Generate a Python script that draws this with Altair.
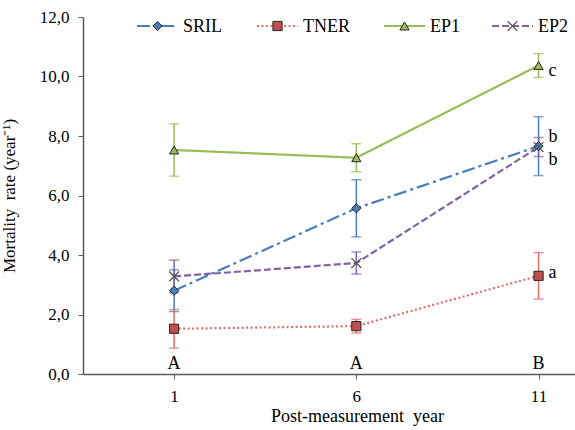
import altair as alt
import pandas as pd

# ---------------- data ----------------
years = [1, 6, 11]
series = ["SRIL", "TNER", "EP1", "EP2"]
sril = [2.80, 5.57, 7.66]
sril_err = [0.70, 0.96, 0.99]
tner = [1.52, 1.61, 3.30]
tner_err = [0.65, 0.23, 0.78]
ep1 = [7.53, 7.27, 10.37]
ep1_err = [0.88, 0.47, 0.40]
ep2 = [3.28, 3.73, 7.63]
ep2_err = [0.55, 0.37, 0.32]

group_letters = ["A", "A", "B"]          # year-group letters
sig_letters = ["c", "b", "b", "a"]       # series letters at year 11
sig_letter_y = [10.2, 7.95, 7.2, 3.4]    # annotation heights (y units)

y_ticks = [0, 2, 4, 6, 8, 10, 12]

# ---------------- styles ----------------
line_colors = ["#4a7ebb", "#e06c6c", "#9bbb59", "#8064a2"]
fill_colors = ["#4a7ebb", "#c0504d", "#9bbb59", "#8064a2"]
dashes = [[13, 4, 3, 4], [2, 2.5], [1, 0], [7, 3]]
shapes = ["diamond", "square", "triangle-up", "M-0.8,-0.8L0.8,0.8M-0.8,0.8L0.8,-0.8"]
FONT = "Times New Roman, Liberation Serif, serif"

vals = {"SRIL": (sril, sril_err), "TNER": (tner, tner_err),
        "EP1": (ep1, ep1_err), "EP2": (ep2, ep2_err)}
rows = []
for s in series:
    v, e = vals[s]
    for yr, val, er in zip(years, v, e):
        rows.append({"series": s, "year": yr, "value": val,
                     "lo": val - er, "hi": val + er})
df = pd.DataFrame(rows)

W, H = 492, 357
xs = alt.Scale(domain=[-1.5, 12], nice=False, zero=False)
ys = alt.Scale(domain=[0, 12], nice=False, zero=True)
col_stroke = alt.Color("series:N", scale=alt.Scale(domain=series, range=line_colors), legend=None)
col_fill = alt.Fill("series:N", scale=alt.Scale(domain=series, range=fill_colors), legend=None)
dash_enc = alt.StrokeDash("series:N", scale=alt.Scale(domain=series, range=dashes), legend=None)
shape_enc = alt.Shape("series:N", scale=alt.Scale(domain=series, range=shapes), legend=None)

base = alt.Chart(df)

x_axis = alt.Axis(values=years, title="Post-measurement\u00a0\u00a0year", grid=False,
                  domainColor="#595959", domainWidth=1.5, tickColor="#595959",
                  tickSize=5, labelFont=FONT, labelFontSize=17, labelColor="black",
                  labelPadding=9, titleFont=FONT, titleFontSize=18, titleFontWeight="normal",
                  titleColor="black", titlePadding=3, titleX=274)
y_axis = alt.Axis(values=y_ticks, title="Mortality\u00a0\u00a0rate (year⁻¹)", grid=False,
                  labelExpr="replace(format(datum.value, '.1f'), '.', ',')",
                  domainColor="#595959", domainWidth=1.5, tickColor="#595959",
                  tickSize=5, labelFont=FONT, labelFontSize=17, labelColor="black",
                  labelPadding=9, titleFont=FONT, titleFontSize=17, titleFontWeight="normal",
                  titleColor="black", titleX=-65, titleAlign="center")

lines = base.mark_line(strokeWidth=2.2).encode(
    x=alt.X("year:Q", scale=xs, axis=x_axis),
    y=alt.Y("value:Q", scale=ys, axis=y_axis),
    color=col_stroke, strokeDash=dash_enc, detail="series:N")

err_rule = base.mark_rule(strokeWidth=1.5).encode(
    x=alt.X("year:Q", scale=xs), y=alt.Y("lo:Q", scale=ys), y2="hi:Q", color=col_stroke)
err_top = base.mark_tick(thickness=1.5, size=10, orient="horizontal").encode(
    x=alt.X("year:Q", scale=xs), y=alt.Y("hi:Q", scale=ys), color=col_stroke)
err_bot = base.mark_tick(thickness=1.5, size=10, orient="horizontal").encode(
    x=alt.X("year:Q", scale=xs), y=alt.Y("lo:Q", scale=ys), color=col_stroke)

filled_pts = base.transform_filter(alt.datum.series != "EP2").mark_point(
    filled=True, size=85, stroke="#262626", strokeWidth=1, opacity=1).encode(
    x=alt.X("year:Q", scale=xs), y=alt.Y("value:Q", scale=ys),
    fill=col_fill, shape=shape_enc)
x_pts = base.transform_filter(alt.datum.series == "EP2").mark_point(
    filled=False, size=150, stroke="#555555", strokeWidth=1.3, opacity=1).encode(
    x=alt.X("year:Q", scale=xs), y=alt.Y("value:Q", scale=ys), shape=shape_enc)

grp_df = pd.DataFrame({"year": years, "letter": group_letters})
grp_text = alt.Chart(grp_df).mark_text(font=FONT, fontSize=18, color="black",
                                       baseline="bottom", dy=-1).encode(
    x=alt.X("year:Q", scale=xs), y=alt.Y(datum=0, scale=ys), text="letter:N")

sig_df = pd.DataFrame({"year": [11] * 4, "y": sig_letter_y, "letter": sig_letters})
sig_text = alt.Chart(sig_df).mark_text(font=FONT, fontSize=18, color="black",
                                       align="left", baseline="middle", dx=10).encode(
    x=alt.X("year:Q", scale=xs), y=alt.Y("y:Q", scale=ys), text="letter:N")

main = alt.layer(lines, err_rule, err_top, err_bot, filled_pts, x_pts, grp_text, sig_text)

# ---------------- legend (layout in plot pixels) ----------------
leg_x0 = [54, 174, 301, 409]
seg_len = 41
leg_y = 9
leg_df = pd.DataFrame({"series": series,
                       "x1": leg_x0,
                       "x2": [a + seg_len for a in leg_x0],
                       "xm": [a + seg_len / 2 for a in leg_x0],
                       "xt": [a + seg_len + 5 for a in leg_x0],
                       "y": [leg_y] * 4})
lxs = alt.Scale(domain=[0, W], range=[0, W], nice=False, zero=False)
lys = alt.Scale(domain=[0, H], range=[0, H], nice=False, zero=False)
lb = alt.Chart(leg_df)
leg_line = lb.mark_rule(strokeWidth=2.2).encode(
    x=alt.X("x1:Q", scale=lxs, axis=None), x2="x2:Q",
    y=alt.Y("y:Q", scale=lys, axis=None), color=col_stroke, strokeDash=dash_enc)
leg_pts = lb.transform_filter(alt.datum.series != "EP2").mark_point(
    filled=True, size=85, stroke="#262626", strokeWidth=1, opacity=1).encode(
    x=alt.X("xm:Q", scale=lxs, axis=None), y=alt.Y("y:Q", scale=lys, axis=None),
    fill=col_fill, shape=shape_enc)
leg_x = lb.transform_filter(alt.datum.series == "EP2").mark_point(
    filled=False, size=150, stroke="#555555", strokeWidth=1.3, opacity=1).encode(
    x=alt.X("xm:Q", scale=lxs, axis=None), y=alt.Y("y:Q", scale=lys, axis=None),
    shape=shape_enc)
leg_text = lb.mark_text(font=FONT, fontSize=18, color="black", align="left",
                        baseline="middle", dy=1).encode(
    x=alt.X("xt:Q", scale=lxs, axis=None), y=alt.Y("y:Q", scale=lys, axis=None),
    text="series:N")
legend = alt.layer(leg_line, leg_pts, leg_x, leg_text)

chart = alt.layer(main, legend).resolve_scale(
    x="independent", y="independent"
).properties(
    width=W, height=H,
    padding={"left": 83, "top": 17, "right": 0, "bottom": 56},
    autosize="none", background="white"
).configure_view(stroke=None)

chart.save("out.html", embed_options={"renderer": "svg", "actions": False})
